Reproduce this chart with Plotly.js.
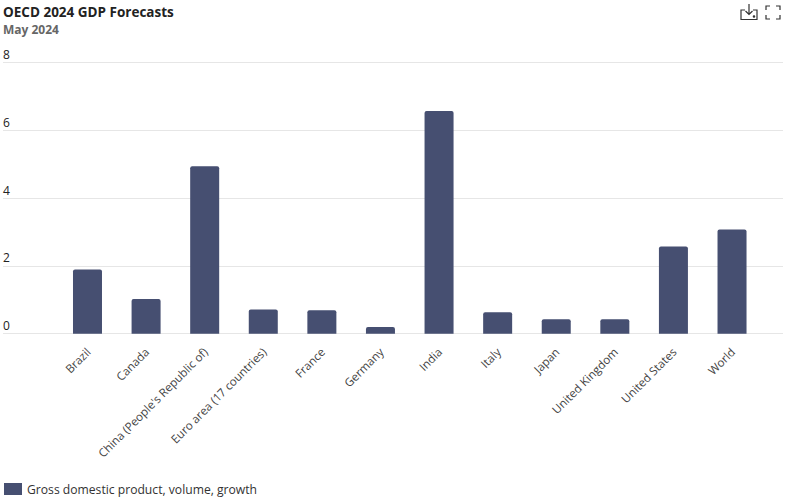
<!DOCTYPE html>
<html><head><meta charset="utf-8">
<script src="https://cdn.plot.ly/plotly-3.0.1.min.js"></script>
<style>html,body{margin:0;padding:0;background:#fff}#c{width:790px;height:501px;position:relative}
#ic{position:absolute;left:735px;top:0;width:55px;height:26px;pointer-events:none}</style>
</head><body>
<div id="c"><svg id="ic" viewBox="735 0 55 26" fill="none" stroke="#333" stroke-width="1.2">
<path d="M745 10H741V19.5H757V10H753M749 4V14.5M745.5 11L749 14.5L752.5 11"/><circle cx="754" cy="16.5" r="0.7" fill="#333"/>
<path d="M766 10V6H770M776 6H780V10M780 15V19H776M770 19H766V15"/></svg></div>
<script>
const categories=["Brazil","Canada","China (People's Republic of)","Euro area (17 countries)","France","Germany","India","Italy","Japan","United Kingdom","United States","World"];
const gdpGrowth=[1.9,1.03,4.95,0.72,0.7,0.2,6.58,0.64,0.43,0.43,2.58,3.08];
const seriesName="Gross domestic product, volume, growth";
const yTicks=[0,2,4,6,8];
const barColor="#464f71";
const font="'Open Sans','Noto Sans',sans-serif";
Plotly.newPlot("c",[{type:"bar",x:categories,y:gdpGrowth,name:seriesName,marker:{color:barColor},width:0.495,hoverinfo:"x+y"}],{
 width:790,height:501,paper_bgcolor:"#fff",plot_bgcolor:"#fff",showlegend:false,barcornerradius:2,
 margin:{l:3,r:7,t:46.4,b:157.2},
 font:{family:font,size:12,color:"#333"},
 xaxis:{type:"category",range:[-1.442,11.87],tickangle:-45,showgrid:false,showline:false,zeroline:false,ticks:"",ticklen:0,ticklabelstandoff:-2,tickfont:{size:11.6,color:"#444"},automargin:false},
 yaxis:{range:[-0.3,8.5],tickvals:yTicks,ticktext:yTicks.map(String),ticklabelposition:"inside",ticklabelshift:-8,ticklabelstandoff:-3,gridcolor:"#e6e6e6",gridwidth:1,zeroline:false,showline:false,tickfont:{size:12,color:"#222"},automargin:false},
 annotations:[
  {text:"<b>OECD 2024 GDP Forecasts</b>",xref:"paper",yref:"paper",x:0,xanchor:"left",y:1,yanchor:"top",yshift:45.4,xshift:-2,showarrow:false,font:{size:13.5,color:"#222",family:font}},
  {text:"<b>May 2024</b>",xref:"paper",yref:"paper",x:0,xanchor:"left",y:1,yanchor:"top",yshift:27.4,xshift:-2,showarrow:false,font:{size:12,color:"#666",family:font}},
  {text:seriesName,xref:"paper",yref:"paper",x:0,xanchor:"left",y:0,yanchor:"middle",yshift:-145.3,xshift:22,showarrow:false,font:{size:12.15,color:"#333",family:font}}
 ],
 shapes:[{type:"rect",xref:"paper",yref:"paper",xsizemode:"pixel",ysizemode:"pixel",xanchor:0,yanchor:0,x0:1,x1:19,y0:-139,y1:-151,fillcolor:barColor,line:{width:0}}]
},{displayModeBar:false,responsive:false});
</script></body></html>
